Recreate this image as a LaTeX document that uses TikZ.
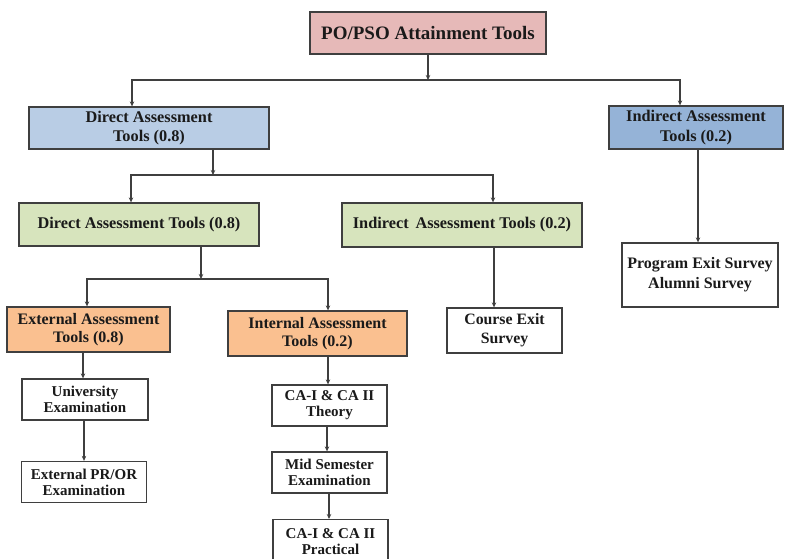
\documentclass[tikz,border=0pt]{standalone}
\usepackage{fontspec}
\setmainfont{Liberation Serif}
\usetikzlibrary{arrows.meta}
\definecolor{pinkf}{HTML}{E6B9B8}
\definecolor{bluel}{HTML}{B9CDE5}
\definecolor{blued}{HTML}{95B3D7}
\definecolor{greenf}{HTML}{D7E4BD}
\definecolor{orangef}{HTML}{FAC090}
\definecolor{edge}{HTML}{3F3F3F}
\definecolor{txt}{HTML}{1A1A1A}
\tikzset{
  box/.style={draw=edge, line width=1.3pt, inner sep=1pt, align=center, text=txt, font=\bfseries},
  arr/.style={draw=edge, line width=1.1pt, -{Stealth[length=5pt,width=4.5pt]}},
  big/.style={font=\bfseries\fontsize{16.3}{19.5}\selectfont},
  small/.style={font=\bfseries\fontsize{15}{16}\selectfont},
}
\begin{document}
\begin{tikzpicture}[x=1pt,y=-1pt]
\useasboundingbox (0,0) rectangle (785,558);
\begin{scope}
\clip (0,0) rectangle (785,558);
\node[box, fill=pinkf, minimum width=236pt, minimum height=42pt, font=\bfseries\fontsize{19}{22}\selectfont] (top) at (428,33) {PO/PSO Attainment Tools};
\node[box, big, fill=bluel, minimum width=240pt, minimum height=42pt] (dat) at (149,128) {Direct Assessment\\Tools (0.8)};
\node[box, big, fill=blued, minimum width=174pt, minimum height=43pt] (iat) at (696,127.5) {Indirect Assessment\\Tools (0.2)};
\node[box, big, fill=greenf, minimum width=240pt, minimum height=43pt] (gdat) at (139,224.5) {Direct Assessment Tools (0.8)};
\node[box, big, fill=greenf, minimum width=240pt, minimum height=44pt] (giat) at (462,225) {Indirect\, Assessment Tools (0.2)};
\node[box, fill=white, minimum width=156pt, minimum height=64pt, font=\bfseries\fontsize{16}{20}\selectfont] (pes) at (700,275) {Program Exit Survey\\Alumni Survey};
\node[box, fill=orangef, minimum width=163pt, minimum height=45pt, font=\bfseries\fontsize{16}{18.5}\selectfont] (ext) at (88.5,329.5) {External Assessment\\Tools (0.8)};
\node[box, fill=orangef, minimum width=179pt, minimum height=45pt, font=\bfseries\fontsize{16}{18.5}\selectfont] (int) at (317.5,333.5) {Internal Assessment\\Tools (0.2)};
\node[box, fill=white, minimum width=115pt, minimum height=45pt, font=\bfseries\fontsize{15.8}{19}\selectfont] (ces) at (504.5,330.5) {Course Exit\\Survey};
\node[box, small, fill=white, minimum width=126pt, minimum height=41pt] (uni) at (85,399.5) {University\\Examination};
\node[box, small, fill=white, minimum width=125pt, minimum height=41pt] (pror) at (84,482) {External PR/OR\\Examination};
\node[box, small, fill=white, minimum width=115pt, minimum height=41pt] (cat) at (329.5,405.5) {CA-I \& CA II\\Theory};
\node[box, small, fill=white, minimum width=115pt, minimum height=41pt] (mid) at (329.5,472.5) {Mid Semester\\Examination};
\node[box, small, fill=white, minimum width=115pt, minimum height=44pt, anchor=north] (cap) at (330.5,519) {CA-I \& CA II\\Practical};
\end{scope}
% junctions
\coordinate (j1) at (428,80);
\coordinate (j2) at (213,175);
\coordinate (j3) at (201,279);
% connectors
\draw[arr] (top.south) -- (j1);
\draw[arr] (j1) -| ([xshift=-17pt]dat.north);
\draw[arr] (j1) -| ([xshift=-16pt]iat.north);
\draw[arr] ([xshift=64pt]dat.south) -- (j2);
\draw[arr] (j2) -| ([xshift=-8pt]gdat.north);
\draw[arr] (j2) -| ([xshift=31pt]giat.north);
\draw[arr] ([xshift=62pt]gdat.south) -- (j3);
\draw[arr] (j3) -| ([xshift=-1.5pt]ext.north);
\draw[arr] (j3) -| ([xshift=10.5pt]int.north);
\draw[arr] ([xshift=-10.5pt]ces.north |- giat.south) -- ([xshift=-10.5pt]ces.north);
\draw[arr] ([xshift=-2pt]pes.north |- iat.south) -- ([xshift=-2pt]pes.north);
\draw[arr] ([xshift=-2pt]uni.north |- ext.south) -- ([xshift=-2pt]uni.north);
\draw[arr] (uni.south -| pror.north) -- (pror.north);
\draw[arr] ([xshift=-1.5pt]cat.north |- int.south) -- ([xshift=-1.5pt]cat.north);
\draw[arr] ([xshift=-2.5pt]cat.south) -- ([xshift=-2.5pt]mid.north);
\draw[arr] ([xshift=-0.5pt]mid.south) -- ([xshift=-1.5pt]cap.north);
\end{tikzpicture}
\end{document}
